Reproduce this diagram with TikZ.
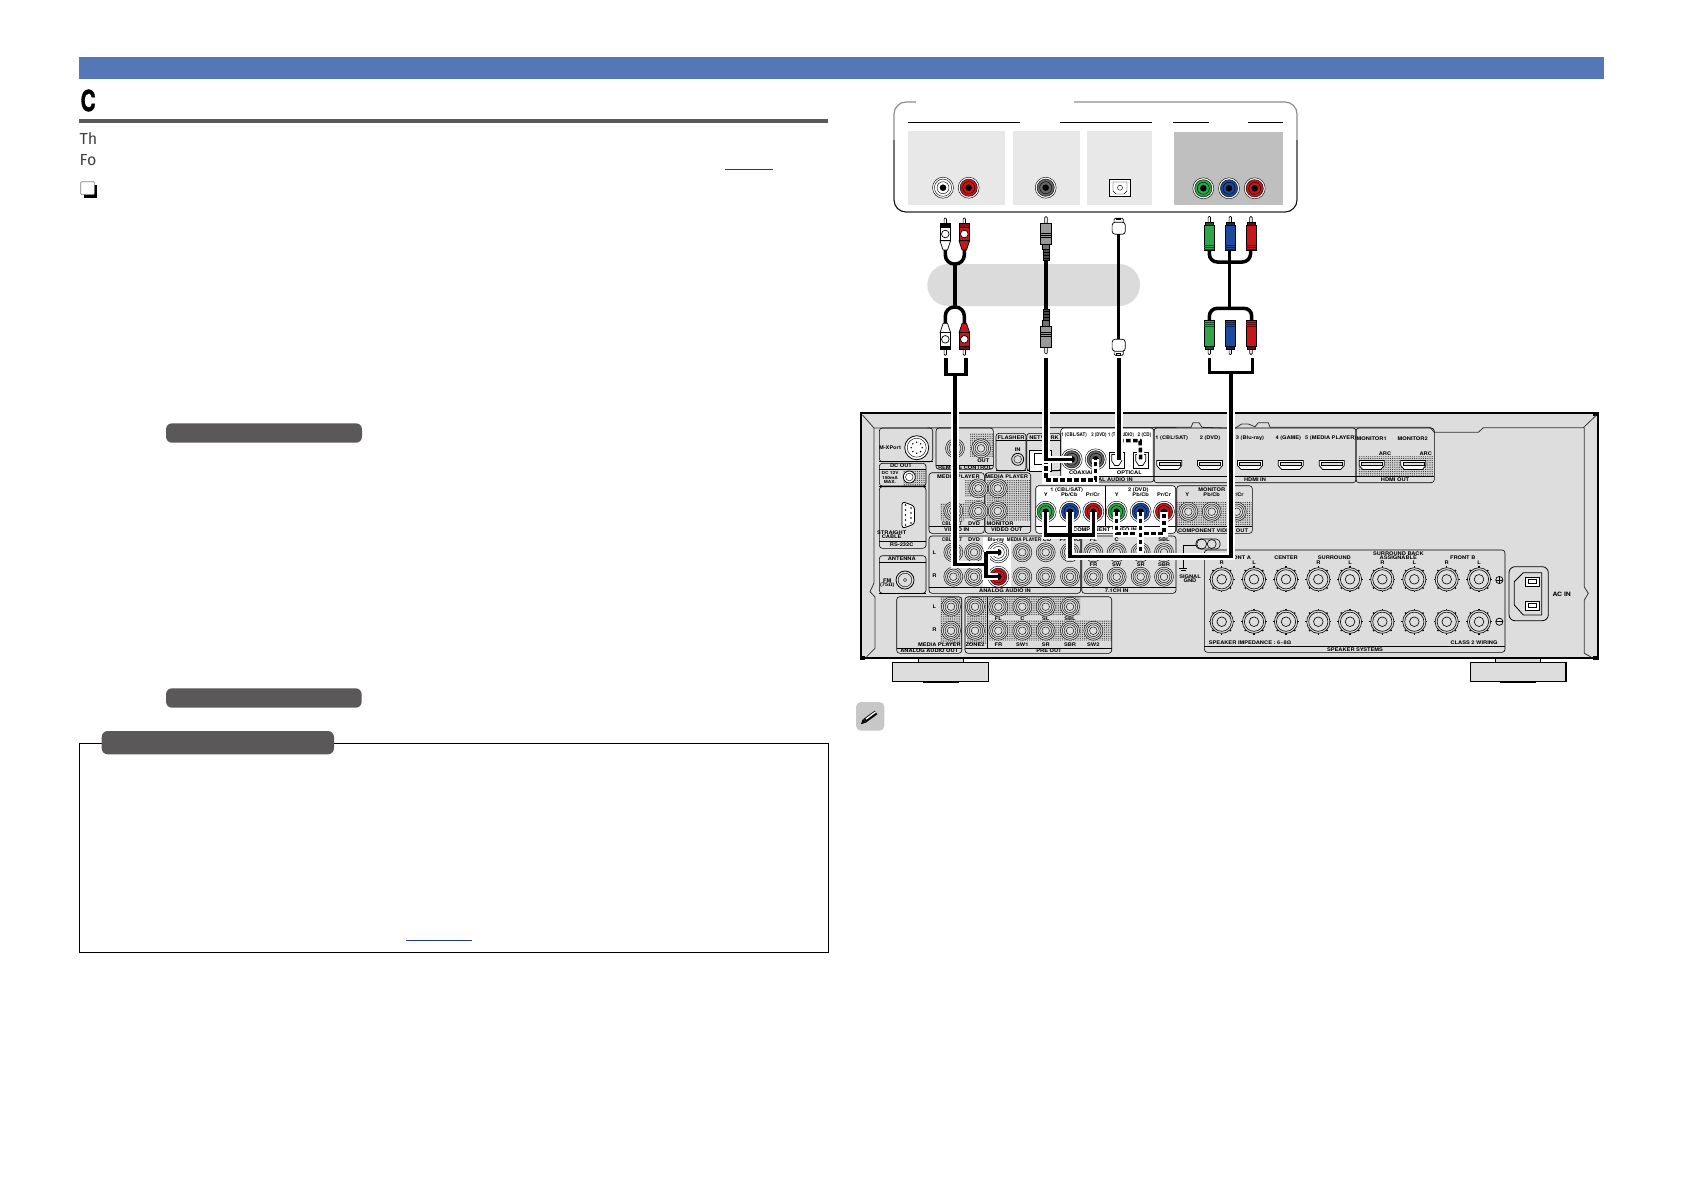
\documentclass[tikz,border=0pt]{standalone}
\usepackage{fontspec}
\setmainfont{Fira Sans}
\newfontfamily\panelfont[FakeStretch=1.14]{TeX Gyre Heros}
\newfontfamily\headfont[FakeBold=1.5]{TeX Gyre Heros}
\usetikzlibrary{patterns.meta}
\definecolor{barblue}{HTML}{5577B7}
\definecolor{pilldark}{HTML}{5A5858}
\definecolor{panelgray}{HTML}{DDDDDD}
\definecolor{linkblue}{HTML}{1F3A7A}
\definecolor{jackred}{HTML}{C8161D}
\definecolor{jackgreen}{HTML}{2FA54A}
\definecolor{jackblue}{HTML}{1C4A9C}
\tikzset{
    x=0.5pt, y=-0.5pt,
    panelline/.style={line width=0.3pt, black},
    jackline/.style={line width=0.22pt, black},
    plugline/.style={line width=0.35pt, black},
    trimline/.style={line width=0.4pt, black!80},
    tone/.style={pattern={Dots[distance=1.1pt,radius=0.3pt]}, pattern color=black!80},
    paneltext/.style={font=\panelfont\bfseries\fontsize{2.5}{2.1}\selectfont, inner sep=0pt, align=center},
    bodytext/.style={font=\fontsize{8}{9.6}\selectfont, text=black!75, inner sep=0pt, anchor=west},
    pill/.style={fill=pilldark, rounded corners=3pt},
    cableplain/.style={line width=1.75pt, black},
    cable/.style={cableplain, preaction={draw, white, line width=3.6pt}},
    cabledot/.style={cableplain, dash pattern=on 2.3pt off 1.2pt, preaction={draw, solid, white, line width=3.6pt}},
    pics/ringjack/.style={code={
        \fill[panelgray] (0,0) circle (9.5);
        \foreach \r in {9.5,7.7,5.9,3.8} \draw[jackline] (0,0) circle (\r);
    }},
    pics/rcajack/.style={code={
        \draw[jackline, fill=white] (0,0) circle (10.5);
        \draw[jackline, fill=#1] (0,0) circle (8.6);
        \draw[jackline] (0,0) circle (6);
        \fill[black] (0,0) circle (3.3);
    }},
    pics/terminal/.style={code={
        \foreach \a in {0,45,...,315} \draw[line width=0.7pt] (\a:10.6) -- (\a:13);
        \draw[jackline, line width=0.3pt, fill=panelgray] (0,0) circle (11.6);
        \draw[jackline, line width=0.3pt] (0,0) circle (9.6);
        \draw[jackline, line width=0.3pt] (0,0) circle (4.8);
    }},
    pics/hdmiport/.style={code={
        \draw[jackline, line width=0.35pt, fill=white] (-12.5,-4.5) -- (12.5,-4.5) -- (12.5,0.5) -- (9,4.5) -- (-9,4.5) -- (-12.5,0.5) -- cycle;
        \draw[jackline, fill=panelgray] (-10.5,-2.8) rectangle (10.5,0.4);
    }},
    pics/optjack/.style={code={
        \draw[jackline, line width=0.35pt, fill=white] (-7.5,-8) rectangle (7.5,8);
        \draw[jackline, line width=0.35pt] (-5,-5.5) -- (5,-5.5) -- (5,1) -- (2,5.5) -- (-2,5.5) -- (-5,1) -- cycle;
    }},
    pics/audioplug/.style n args={2}{code={
        \draw[plugline, fill=white, rounded corners=0.5pt] (-1.2,-16) rectangle (1.2,-9);
        \draw[plugline, fill=#2] (-4.6,-10.5) rectangle (4.6,-6.7);
        \draw[plugline, fill=#1] (-5.3,6.7) -- (-2.2,16) -- (2.2,16) -- (5.3,6.7) -- cycle;
        \draw[plugline, fill=#1] (-5.3,-6.7) rectangle (5.3,6.7);
        \draw[plugline, fill=white] (0,0) circle (3.8);
    }},
    pics/coaxplug/.style={code={
        \draw[plugline, fill=white, rounded corners=0.5pt] (-1.3,-17) rectangle (1.3,-10);
        \draw[plugline, fill=black!40] (-5.6,-10.4) rectangle (5.6,10.4);
        \foreach \v in {0,2,4} \draw[plugline] (-5.6,\v) -- (5.6,\v);
        \draw[plugline, fill=black!55] (-3.4,10.4) rectangle (3.4,16);
        \draw[plugline, fill=black!70] (-3,16) rectangle (3,27);
        \foreach \v in {19,22,25} \draw[line width=0.5pt, black] (-3,\v) -- (3,\v);
    }},
    pics/optplug/.style={code={
        \draw[plugline, fill=white, rounded corners=0.6pt] (-4.6,-8.5) rectangle (4.6,-2);
        \draw[plugline, fill=white, rounded corners=1.5pt] (-6.6,-4.5) rectangle (6.6,7.5);
        \draw[plugline] (-2,-8.5) rectangle (2,-7);
    }},
    pics/compplug/.style n args={2}{code={
        \draw[plugline, fill=white, rounded corners=0.5pt] (-1.2,-21.5) rectangle (1.2,-14);
        \draw[plugline, fill=#2] (-4,-16) rectangle (4,-13);
        \draw[plugline, fill=#1] (-5,-13) rectangle (5,12.8);
        \foreach \v in {7,9,11} \draw[plugline, #2] (-5,\v) -- (5,\v);
    }},
}
\begin{document}
\begin{tikzpicture}
    \useasboundingbox (0,0) rectangle (1684,1191);

    % Jack positions on the receiver
    \coordinate (audioL) at (998.3,552.3);
    \coordinate (audioR) at (998.3,576.7);
    \coordinate (coaxA) at (1071.7,459.3);
    \coordinate (coaxB) at (1095.7,459.3);
    \coordinate (optA) at (1116.7,460);
    \coordinate (optB) at (1140.7,460);
    \coordinate (optHit) at (1119,460);
    \coordinate (compAy) at (1045.7,511.7);
    \coordinate (compAb) at (1070,511.7);
    \coordinate (compAr) at (1093.3,511.7);
    \coordinate (compBy) at (1116.7,511.7);
    \coordinate (compBb) at (1140.7,511.7);
    \coordinate (compBr) at (1164,511.7);
    \coordinate (compAbus) at (1045.7,535);
    \coordinate (compBbus) at (1116.7,533.3);

    % Plug positions
    \coordinate (whiteTop) at (945.3,234);
    \coordinate (redTop) at (964.3,234);
    \coordinate (whiteBot) at (945.3,339.3);
    \coordinate (redBot) at (964.3,339.3);
    \coordinate (coaxTop) at (1046,233.7);
    \coordinate (coaxBot) at (1046,336.7);
    \coordinate (optTop) at (1118.7,226.7);
    \coordinate (optBot) at (1118.7,346.7);
    \coordinate (greenTop) at (1209.3,238);
    \coordinate (blueTop) at (1230.3,238);
    \coordinate (ruddyTop) at (1251,238);
    \coordinate (greenBot) at (1209.3,333);
    \coordinate (blueBot) at (1230.3,333);
    \coordinate (ruddyBot) at (1251,333);

    % Page furniture
    \fill[barblue] (79,57.3) rectangle (1603.5,79);
    \node[inner sep=0pt, font=\headfont\bfseries\fontsize{14.5}{15}\selectfont, anchor=west] (title) at (80.2,100.5) {\scalebox{.72}[1]{C}};
    \fill[pilldark] (79,119) rectangle (828,122.7);
    \node[bodytext] (introA) at (79.3,139) {Th};
    \node[bodytext] (introB) at (79.3,160) {Fo};
    \draw[linkblue, line width=0.5pt] (725,169) -- (773.3,169);
    \fill[black] (83.5,185) rectangle (97.3,197.7);
    \draw[black!50, fill=white, line width=0.3pt, rounded corners=0.5pt] (80.7,181.7) rectangle (94.3,194.6);
    \fill[pill] (166,423.3) rectangle (362,442.7);
    \fill[pill] (166,688.3) rectangle (361.7,707.7);
    \draw[black, line width=0.5pt] (79.3,743.3) rectangle (828,952.3);
    \fill[pill] (101.7,731) rectangle (334,754.3);
    \draw[linkblue, line width=0.5pt] (406,940.3) -- (472,940.3);

    % Note icon
    \fill[black!22, rounded corners=2.5pt] (856,702) rectangle (884.3,730.7);
    \draw[line width=2.2pt, black] (865,720.5) -- (876,712.5);
    \draw[line width=0.7pt, white] (866,719) -- (875.5,712);
    \fill[black] (860.8,724.2) -- (863,718.8) -- (866.5,722.4) -- cycle;

    % Source device
    \draw[black!45, fill=white, line width=0.6pt, rounded corners=6pt] (894,102) rectangle (1297,212);
    \draw[black, line width=0.4pt, rounded corners=6pt] (894,140) -- (894,212) -- (1297,212) -- (1297,140);
    \fill[white] (916,100) rectangle (1074,104);
    \foreach \xa/\xb in {908/1020,1060/1152,1173/1209,1248/1283}
        \draw[line width=0.4pt] (\xa,122.3) -- (\xb,122.3);
    \fill[black!9] (908,131) rectangle (1005,205);
    \fill[black!9] (1013,131) rectangle (1080,205);
    \fill[black!9] (1087,131) rectangle (1152,205);
    \fill[black!25] (1174,132) rectangle (1283,205);
    \pic at (943,187.7) {rcajack=white};
    \pic at (968.7,187.7) {rcajack=jackred};
    \pic at (1045.7,187.7) {rcajack=black!60};
    \draw[line width=0.4pt, fill=white] (1109.5,179) rectangle (1130.5,196.4);
    \draw[jackline] (1113,182) -- (1127,182) -- (1127,191) -- (1124,194) -- (1116,194) -- (1113,191) -- cycle;
    \draw[jackline] (1120,187.7) circle (2.5);
    \pic at (1203.3,188.3) {rcajack=jackgreen};
    \pic at (1229,188.3) {rcajack=jackblue};
    \pic at (1254.7,188.3) {rcajack=jackred};

    % Grey band behind the cables
    \fill[black!14] (927.3,264) [rounded corners=21*0.5pt] rectangle (1140,306);

    % Cables between device and receiver
    \draw[cableplain, rounded corners=4.5pt] (945.3,248) -- (945.3,264) -- (964.3,264) -- (964.3,248);
    \draw[cableplain] (955,264) -- (955,307);
    \draw[cableplain, rounded corners=4.5pt] (945.3,325) -- (945.3,307) -- (964.3,307) -- (964.3,325);
    \draw[cableplain] (coaxTop) -- (coaxBot);
    \draw[cableplain] (optTop) -- (optBot);
    \draw[cableplain, rounded corners=4pt] (greenTop) -- (1209.3,262) -- (1250.3,262) -- (ruddyTop);
    \draw[cableplain] (1229.3,245) -- (1229.3,310);
    \draw[cableplain, rounded corners=4pt] (greenBot) -- (1209.3,308.3) -- (1252,308.3) -- (ruddyBot);
    \pic at (whiteTop) {audioplug={white}{black}};
    \pic at (redTop) {audioplug={jackred}{jackred!70!black}};
    \pic[yscale=-1] at (whiteBot) {audioplug={white}{black}};
    \pic[yscale=-1] at (redBot) {audioplug={jackred}{jackred!60!black}};
    \pic at (coaxTop) {coaxplug};
    \pic[yscale=-1] at (coaxBot) {coaxplug};
    \pic at (optTop) {optplug};
    \pic[yscale=-1] at (optBot) {optplug};
    \pic at (greenTop) {compplug={jackgreen}{jackgreen!50!black}};
    \pic at (blueTop) {compplug={jackblue}{jackblue!50!black}};
    \pic at (ruddyTop) {compplug={jackred}{jackred!50!black}};
    \pic[yscale=-1] at (greenBot) {compplug={jackgreen}{jackgreen!50!black}};
    \pic[yscale=-1] at (blueBot) {compplug={jackblue}{jackblue!50!black}};
    \pic[yscale=-1] at (ruddyBot) {compplug={jackred}{jackred!50!black}};

    % Receiver body and feet
    \draw[line width=0.4pt, fill=panelgray] (918,655) rectangle (963,664);
    \draw[line width=0.4pt, fill=panelgray] (1495.7,655) rectangle (1540.7,664);
    \draw[line width=0.7pt, fill=panelgray] (892.7,662.3) rectangle (988.3,681.7);
    \draw[line width=0.7pt, fill=panelgray] (1470.7,662.3) rectangle (1566,681.7);
    \fill[black] (923,681.7) rectangle (959,683.3);
    \fill[black] (1500,681.7) rectangle (1536,683.3);
    \draw[line width=0.9pt, fill=panelgray] (860.7,413.3) rectangle (1597.7,658.3);
    \fill[black] (860,655.5) rectangle (865,660);
    \fill[black] (1593,412.7) rectangle (1598.5,415.5);
    \fill[black] (1592.5,655.5) rectangle (1598.5,660);
    \draw[trimline] (862.5,415) -- (874,428) -- (1191,427.3) -- (1193,422.7) -- (1199,422.7) -- (1202,427.3) -- (1235,428.3) -- (1241.7,424) -- (1248.3,424) -- (1255,426.7) -- (1258.3,422.7) -- (1268.3,422.7) -- (1270,427.3) -- (1430,427.3) -- (1434.3,432.3) -- (1478.3,432.3) -- (1483.3,427.7) -- (1583.3,427.7) -- (1596,415.5);
    \draw[trimline] (1584.3,427.7) -- (1584.3,587) -- (1588.3,593.3) -- (1584.3,600) -- (1584.3,653.3) -- (1591,657);
    \draw[trimline] (874,428) -- (874,583) -- (870,591.7) -- (875,597) -- (875,648.3) -- (866.7,656.7);

    % Screen tone areas
    \foreach \xa/\ya/\xb/\yb in {970/433.3/993.3/456.7, 903/470/926/486, 965/480/983.3/496.7, 965/500/983.3/518, 940/503/965/520,
        986.7/480/1030/520, 1176.7/501.7/1251.7/526.7, 940/597.3/961.7/643.3, 966.7/597.3/987.3/643.3,
        988.3/597.3/1080/615, 988.3/620/1111.7/640, 1358/456.7/1433.3/476.7} {
        \fill[black!18] (\xa,\ya) rectangle (\xb,\yb);
        \fill[tone] (\xa,\ya) rectangle (\xb,\yb);
    }

    % White patches of the connected groups
    \fill[white] (1060.7,428) rectangle (1151.7,476.7);
    \fill[white] (983,536.7) rectangle (1010.7,586.7);
    \fill[white, rounded corners=1.5pt] (1035.7,485.7) rectangle (1175.7,533.3);

    % Panel sections, each with its caption line
    \foreach \xa/\ya/\xb/\yb/\yc in {879.3/428/932.7/461.7/461.7, 879.3/463.3/926/486/486, 879.3/486.7/926/548.3/541,
        879.3/555.7/926/593.3/593.3, 936/428/993.3/469.3/465, 996/433.3/1026/470.7/470.7, 1026.7/433.3/1060.7/470.7/470.7,
        1060.7/428/1154/482/476.7, 1154/428/1356/482.7/476.7, 1356/428/1434.3/482.7/476.7, 929/472.7/984.3/533.3/526.7,
        985/472.7/1030.7/533.3/526.7, 1035.7/485.7/1175.7/533.3/526.7, 1176.7/485.7/1252.3/533.3/526.7,
        929/536/1080.7/593.3/587.3, 1081.7/536/1176/593.3/587.3, 896.7/596.7/961.7/653.3/648.3,
        965/596.7/1111.7/653.3/648.3, 1204.3/550/1505/652.3/646.7} {
        \draw[panelline, rounded corners=1.5pt] (\xa,\ya) rectangle (\xb,\yb);
        \draw[panelline] (\xa,\yc) -- (\xb,\yc);
    }
    \foreach \xa/\xb/\yc in {879.3/926/469.3, 879.3/926/562.3, 996/1026/440.7, 1026.7/1060.7/440.7}
        \draw[panelline] (\xa,\yc) -- (\xb,\yc);
    \draw[panelline] (1105.3,485.7) -- (1105.3,526.7);
    \draw[panelline] (987.7,596.7) -- (987.7,648.3);

    % Plain jacks
    \foreach \px/\py in {955/448.3, 981/448.3, 978.3/488.3, 953.3/511, 978.3/511, 997.7/488.3, 997.7/511,
        1188.3/511.7, 1211.7/511.7, 1236.7/511.7,
        953.3/552.3, 974/552.3, 1022.3/552.3, 1045.7/552.3, 1070/552.3, 1093.3/552.3, 1116.7/552.3, 1140.7/552.3, 1164/552.3,
        953.3/576.7, 974/576.7, 1022.3/576.7, 1045.7/576.7, 1070/576.7, 1093.3/576.7, 1116.7/576.7, 1140.7/576.7, 1164/576.7,
        951/606.7, 951/630.7, 975/606.7, 998.3/606.7, 1022.3/606.7, 1045.7/606.7, 1070/606.7,
        975/630.7, 998.3/630.7, 1022.3/630.7, 1045.7/630.7, 1070/630.7, 1093.3/630.7}
        \pic at (\px,\py) {ringjack};

    % Connected jacks
    \pic at (audioL) {rcajack=white};
    \pic at (audioR) {rcajack=jackred};
    \pic at (coaxA) {rcajack=black!60};
    \pic at (coaxB) {rcajack=black!60};
    \pic at (compAy) {rcajack=jackgreen};
    \pic at (compAb) {rcajack=jackblue};
    \pic at (compAr) {rcajack=jackred};
    \pic at (compBy) {rcajack=jackgreen};
    \pic at (compBb) {rcajack=jackblue};
    \pic at (compBr) {rcajack=jackred};
    \pic at (optA) {optjack};
    \pic at (optB) {optjack};

    % Other sockets
    \draw[jackline, line width=0.4pt, fill=white] (916.7,447.7) circle (12);
    \draw[jackline] (916.7,447.7) circle (9.5);
    \foreach \a in {0,45,...,315} \fill (916.7,447.7) ++(\a:5.5) circle (0.8);
    \draw[jackline, line width=0.4pt, fill=white] (909.3,477) circle (6);
    \draw[jackline] (909.3,477) circle (3.8);
    \draw[jackline, line width=0.4pt, fill=white, rounded corners=1.5pt] (902,501.5) -- (914.5,506) -- (914.5,524) -- (902,528.5) -- cycle;
    \foreach \v in {505,510,515,520,525} \fill (905.5,\v) circle (0.9);
    \foreach \v in {508,513,518,523} \fill (911,\v) circle (0.9);
    \draw[jackline, line width=0.4pt] (905,580) circle (9);
    \draw[jackline] (905,580) circle (6.8);
    \draw[jackline] (905,580) circle (1.6);
    \draw[jackline, line width=0.4pt] (1017.7,459.3) circle (6);
    \draw[jackline] (1017.7,459.3) circle (3.8);
    \draw[jackline, line width=0.4pt, fill=white] (1029,450) rectangle (1051,471);
    \draw[jackline, line width=0.4pt] (1034,453) -- (1046,453) -- (1046,464) -- (1034,464) -- cycle;
    \foreach \px in {1169.3,1210,1250,1290.7,1331.7,1371.7,1413.3}
        \pic at (\px,465) {hdmiport};
    \foreach \px in {1221.7,1254,1286,1318.3,1350,1382.3,1414.3,1446.7,1479} {
        \pic at (\px,579.3) {terminal};
        \pic at (\px,621.7) {terminal};
    }
    \draw[jackline, line width=0.35pt] (1499.3,580) circle (3.6);
    \draw[jackline, line width=0.35pt] (1495.7,580) -- (1502.9,580) (1499.3,576.4) -- (1499.3,583.6);
    \draw[jackline, line width=0.35pt] (1499.3,621.7) circle (3.6);
    \draw[jackline, line width=0.35pt] (1495.7,621.7) -- (1502.9,621.7);

    % Signal ground
    \draw[panelline, fill=panelgray, rounded corners=2pt] (1196,539) rectangle (1220,549);
    \draw[panelline] (1201.7,544) circle (5);
    \draw[panelline] (1211.7,544) circle (4.5);
    \draw[panelline] (1196,545) -- (1183.3,545) -- (1183.3,568.3);
    \draw[panelline] (1179.3,568.3) -- (1187.3,568.3) (1180.5,570.3) -- (1186,570.3);

    % AC inlet
    \draw[panelline, line width=0.4pt, rounded corners=3pt] (1509,566.7) rectangle (1548.3,620.7);
    \draw[panelline, line width=0.4pt] (1541.7,572.7) -- (1523.3,572.7) -- (1514.3,581.7) -- (1514.3,605) -- (1523.3,615) -- (1541.7,615) -- cycle;
    \foreach \v in {581.7,605.7} {
        \draw[panelline, line width=0.4pt, fill=white] (1525.3,\v-4.5) rectangle (1539.3,\v+4.5);
        \draw[panelline] (1528,\v-2) rectangle (1536.5,\v+2);
    }

    % Panel labels
    \foreach \px/\py/\txt [count=\i] in {
        890/447.7/M-XPort, 901/466/DC OUT, 890/477.5/{\scalebox{.85}{DC 12V}\\\scalebox{.85}{150mA}\\\scalebox{.85}{MAX.}}, 891.7/535/{STRAIGHT\\CABLE}, 901.7/544.7/RS-232C,
        901.7/559/ANTENNA, 887.3/583.3/{FM\\(75Ω)}, 983.3/460.7/OUT, 965/467.3/REMOTE CONTROL,
        1011/437.2/FLASHER, 1044/437.2/NETWORK, 1017.7/449.3/IN,
        1074/435/{\scalebox{.78}[1]{1 (CBL/SAT)}}, 1099/435/{\scalebox{.75}[1]{2 (DVD)}}, 1121/435/{\scalebox{.72}[1]{1 (TV AUDIO)}}, 1144.5/435/{\scalebox{.82}[1]{2 (CD)}},
        1081.7/472.7/COAXIAL, 1129.3/472.7/OPTICAL, 1108/480/DIGITAL AUDIO IN,
        1171.7/438.3/{1 (CBL/SAT)}, 1210/438.3/2 (DVD), 1250/438.3/3 (Blu-ray), 1288.3/438.3/4 (GAME), 1330.7/438.3/5 (MEDIA PLAYER),
        1255/480/HDMI IN, 1371.7/438.3/MONITOR1, 1412.7/438.3/MONITOR2, 1385/453.3/ARC, 1425.7/453.3/ARC, 1395/480/HDMI OUT,
        958.3/476.7/MEDIA PLAYER, 952/523.3/{\scalebox{.85}[1]{CBL/SAT}}, 974/523.3/DVD, 956.7/530/VIDEO IN,
        1006.7/476.7/MEDIA PLAYER, 1000/523.3/MONITOR, 1006.7/530/VIDEO OUT,
        1066.7/490/{1 (CBL/SAT)}, 1045.7/494.3/Y, 1069.3/494.3/{Pb/Cb}, 1092.7/494.3/{Pr/Cr},
        1138.3/490/2 (DVD), 1116.7/494.3/Y, 1140.7/494.3/{Pb/Cb}, 1164/494.3/{Pr/Cr}, 1105/530/COMPONENT VIDEO IN,
        1211.7/490/MONITOR, 1187.3/494.3/Y, 1211.7/494.3/{Pb/Cb}, 1236.7/494.3/{Pr/Cr}, 1213/530.4/COMPONENT VIDEO OUT,
        934.3/552.3/L, 934.3/576/R, 952/540/{\scalebox{.85}[1]{CBL/SAT}}, 974/540/DVD, 996/540/{\scalebox{.85}[1]{Blu-ray}}, 1024/540/{\scalebox{.8}[1]{MEDIA PLAYER}}, 1047/540/CD, 1070/540/PHONO,
        1005/590.4/ANALOG AUDIO IN, 1093.3/540/FL, 1116.7/540/C, 1140.7/540/SL, 1164/540/SBL,
        1093.3/565/FR, 1116.7/565/SW, 1140.7/565/SR, 1164/565/SBR, 1116.7/590.4/7.1CH IN,
        1190/578.5/{SIGNAL\\GND},
        934.3/606.7/L, 934.3/630/R, 939.3/644.3/MEDIA PLAYER, 929.3/650.9/ANALOG AUDIO OUT,
        975/644.3/ZONE2, 998.3/619/FL, 1022.3/619/C, 1045.7/619/SL, 1070/619/SBL,
        998.3/644.3/FR, 1022.3/644.3/SW1, 1045.7/644.3/SR, 1070/644.3/SBR, 1093.3/644.3/SW2, 1049/650.9/PRE OUT,
        1238.3/557.3/FRONT A, 1221.7/562.7/R, 1254/563/L, 1286/557.3/CENTER, 1334.3/557.3/SURROUND, 1318.3/562.7/R, 1350/563/L,
        1398.3/553.3/SURROUND BACK, 1398.3/557.6/ASSIGNABLE, 1382.3/562.7/R, 1414.3/563/L,
        1462.7/557.3/FRONT B, 1446.7/562.7/R, 1479/563/L,
        1250/642.3/SPEAKER IMPEDANCE : 6\textasciitilde8Ω, 1474/642.3/CLASS 2 WIRING, 1355/649.6/SPEAKER SYSTEMS}
        \node[paneltext] (lbl\i) at (\px,\py) {\txt};
    \node[paneltext, font=\panelfont\bfseries\fontsize{3}{3.6}\selectfont] (acLabel) at (1561.7,594) {AC IN};

    % Spare connections
    \draw[cabledot] (1046,459.3) -- (1046,480) -- (coaxB |- 0,480) -- (coaxB);
    \draw[cabledot] (1119,440.7) -- (1140,440.7) -- (optB);
    \draw[cabledot] (compBy) -- (compBbus) -- (compBr |- compBbus) -- (compBr);
    \draw[cabledot] (compBb) -- (1140.7,557);

    % Connections to the receiver
    \coordinate (audioBend) at (986,564.3);
    \draw[cable] (946,358) -- (946,374.3) -- (966,374.3) -- (966,358) (955,374.3) |- (audioBend) (audioBend |- audioL) -- (audioL) (audioBend |- audioL) |- (audioR);
    \draw[cable] (1046,358) |- (coaxA);
    \draw[cable] (1119,358) -- (optHit);
    \draw[cable] (1209.3,358) -- (1209.3,372.7) -- (1252.3,372.7) -- (1252.3,358) (1231,372.7) -- (1231,556.7) -| (compAb) (compAy) -- (compAbus) -- (compAr |- compAbus) -- (compAr);
\end{tikzpicture}
\end{document}
